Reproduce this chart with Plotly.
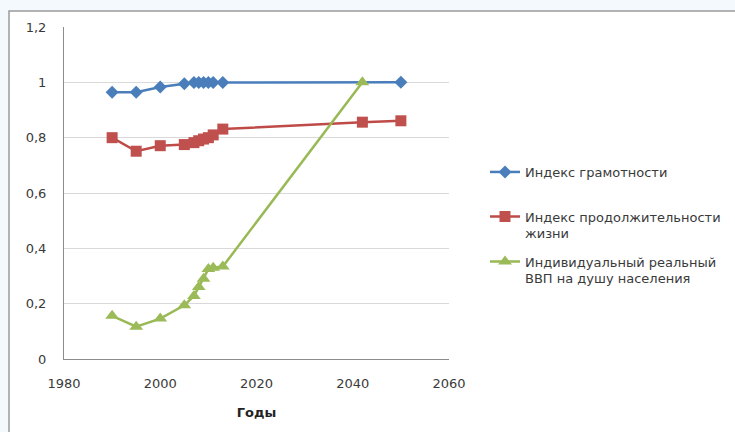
import plotly.graph_objects as go

# Years of observation (plus the 2042/2050 targets)
years_lit = [1990, 1995, 2000, 2005, 2007, 2008, 2009, 2010, 2011, 2013, 2050]
literacy = [0.964, 0.964, 0.983, 0.995, 0.999, 0.999, 0.999, 0.999, 0.999, 0.999, 1.0]

years_life = [1990, 1995, 2000, 2005, 2007, 2008, 2009, 2010, 2011, 2013, 2042, 2050]
life = [0.80, 0.751, 0.771, 0.775, 0.782, 0.789, 0.795, 0.80, 0.81, 0.831, 0.856, 0.861]

years_gdp = [1990, 1995, 2000, 2005, 2007, 2008, 2009, 2010, 2011, 2013, 2042]
gdp = [0.156, 0.117, 0.146, 0.194, 0.228, 0.26, 0.29, 0.325, 0.33, 0.334, 1.0]

names = [
    "Индекс грамотности",
    "Индекс продолжительности<br>жизни",
    "Индивидуальный реальный<br>ВВП на душу населения",
]

x_ticks = [1980, 2000, 2020, 2040, 2060]
y_ticks = [0, 0.2, 0.4, 0.6, 0.8, 1.0, 1.2]

FONT = "DejaVu Sans"
TXT = "#3a3a3a"
W, H = 735, 432
L, R, T, B = 64, 286, 27, 73
pw, ph = W - L - R, H - T - B


def px_x(p):
    return (p - L) / pw


def px_y(p):
    return (H - B - p) / ph


fig = go.Figure()
fig.add_trace(go.Scatter(
    x=years_lit, y=literacy, mode="lines+markers", name=names[0],
    line=dict(color="#4a7ebb", width=2.5),
    marker=dict(symbol="diamond", size=10, color="#4a7ebb"),
    legend="legend",
))
fig.add_trace(go.Scatter(
    x=years_life, y=life, mode="lines+markers", name=names[1],
    line=dict(color="#be4b48", width=2.5),
    marker=dict(symbol="square", size=11, color="#c0504d"),
    legend="legend2",
))
fig.add_trace(go.Scatter(
    x=years_gdp, y=gdp, mode="lines+markers", name=names[2],
    line=dict(color="#98b954", width=2.5),
    marker=dict(symbol="triangle-up", size=12, color="#9bbb59"),
    legend="legend3",
))

leg = dict(
    font=dict(family=FONT, size=13, color=TXT),
    bgcolor="rgba(0,0,0,0)", borderwidth=0,
    x=px_x(485), xanchor="left", yanchor="middle",
    valign="top", itemwidth=30,
)

fig.update_layout(
    width=W, height=H,
    margin=dict(l=L, r=R, t=T, b=B, autoexpand=False),
    paper_bgcolor="#f3f9fd",
    plot_bgcolor="white",
    separators=", ",
    showlegend=True,
    legend=dict(leg, y=px_y(172)),
    legend2=dict(leg, y=px_y(225)),
    legend3=dict(leg, y=px_y(270)),
    xaxis=dict(
        range=[1980, 2060], tickvals=x_ticks, showgrid=False,
        zeroline=False, showline=True, linecolor="#8c8c8c", linewidth=1,
        tickfont=dict(family=FONT, size=13, color=TXT),
        ticklabelstandoff=12,
        title=dict(text="<b>Годы</b>", font=dict(family=FONT, size=13, color="#222"),
                   standoff=18),
    ),
    yaxis=dict(
        range=[0, 1.2], tickvals=y_ticks, showgrid=True, gridcolor="#d9d9d9",
        gridwidth=1, zeroline=False, showline=True, linecolor="#8c8c8c", linewidth=1,
        tickfont=dict(family=FONT, size=13, color=TXT),
        ticklabelstandoff=14,
    ),
    shapes=[
        # white chart area with its grey frame
        dict(type="rect", xref="paper", yref="paper", layer="below",
             x0=px_x(9), x1=px_x(745), y0=px_y(445), y1=px_y(11),
             fillcolor="white", line=dict(color="#9a9a9a", width=1.5)),
    ],
)

fig.write_html("out.html")
